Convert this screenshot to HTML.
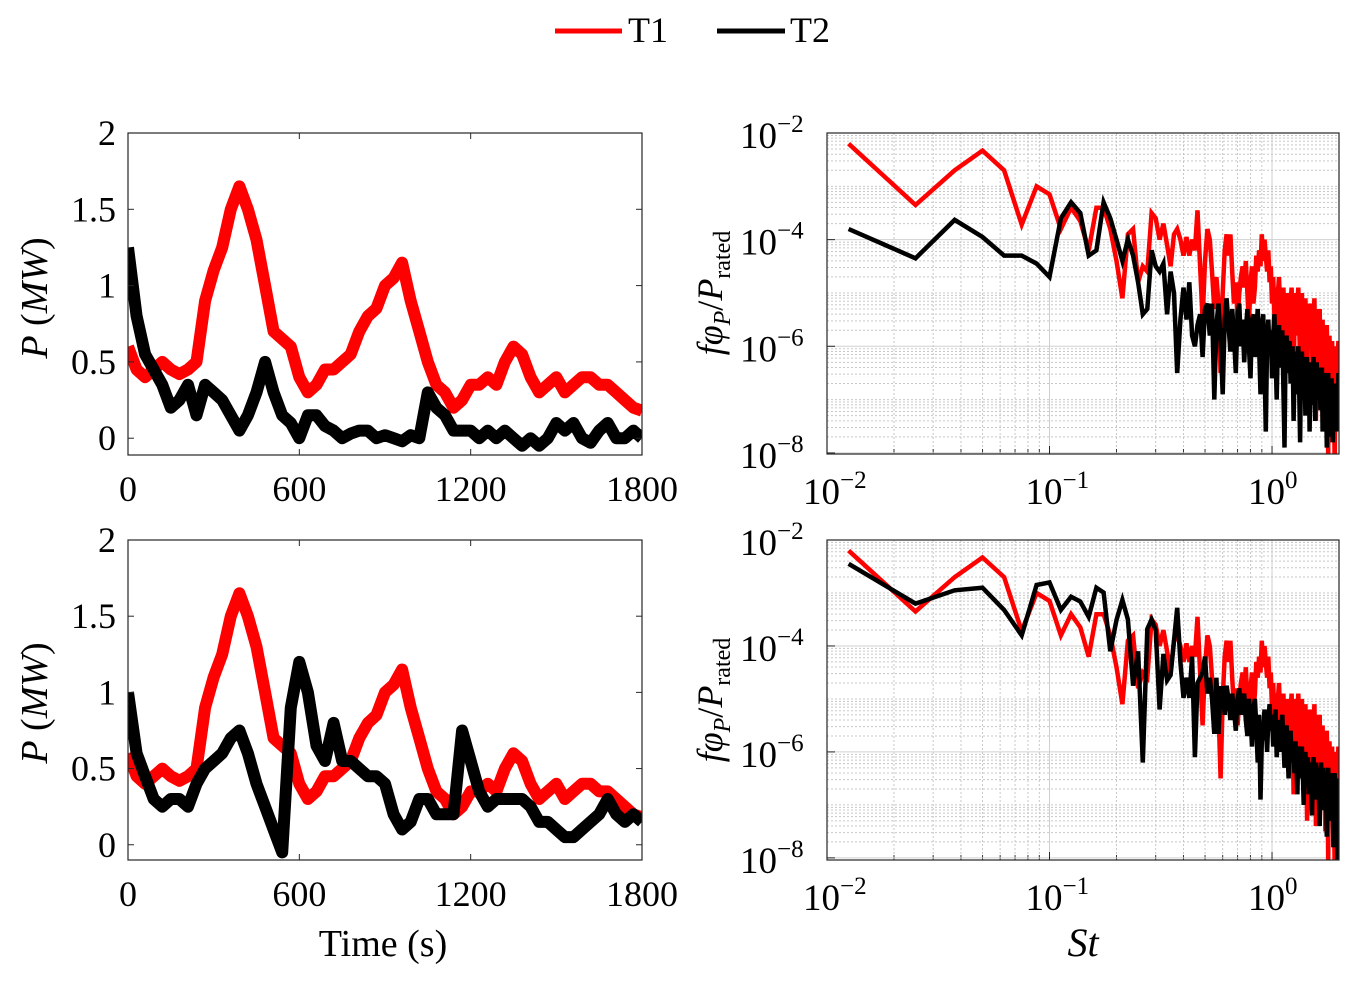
<!DOCTYPE html>
<html><head><meta charset="utf-8"><style>
body{margin:0;background:#fff;}
svg{display:block;font-family:"Liberation Serif",serif;}
</style></head><body>
<svg id="fig" width="1358" height="981" viewBox="0 0 1358 981">
<defs>
<clipPath id="c1"><rect x="128" y="133" width="514" height="322"/></clipPath>
<clipPath id="c2"><rect x="128" y="540" width="514" height="320"/></clipPath>
<clipPath id="c3"><rect x="827" y="133" width="512" height="321"/></clipPath>
<clipPath id="c4"><rect x="827" y="540" width="512" height="320"/></clipPath>
</defs>
<g>
<line x1="555" y1="31" x2="622" y2="31" stroke="#ff0000" stroke-width="5"/>
<text x="628" y="42" font-size="36">T1</text>
<line x1="717" y1="31" x2="785" y2="31" stroke="#000" stroke-width="5"/>
<text x="790" y="42" font-size="36">T2</text>
</g>
<g id="layer"></g>
<text x="0" y="0" font-size="38" transform="translate(47,298) rotate(-90)" text-anchor="middle"><tspan font-style="italic">P</tspan> (<tspan font-style="italic">MW</tspan>)</text>
<text x="0" y="0" font-size="38" transform="translate(47,703) rotate(-90)" text-anchor="middle"><tspan font-style="italic">P</tspan> (<tspan font-style="italic">MW</tspan>)</text>
<text x="383" y="956" font-size="38" text-anchor="middle">Time (s)</text>
<text x="1083" y="956" font-size="40" font-style="italic" text-anchor="middle">St</text>
<text transform="translate(722,293) rotate(-90)" font-size="36" text-anchor="middle"><tspan font-style="italic">fφ</tspan><tspan font-style="italic" font-size="24" dy="8">P</tspan><tspan dy="-8">/</tspan><tspan font-style="italic">P</tspan><tspan font-size="24" dy="8">rated</tspan></text>
<text transform="translate(722,700) rotate(-90)" font-size="36" text-anchor="middle"><tspan font-style="italic">fφ</tspan><tspan font-style="italic" font-size="24" dy="8">P</tspan><tspan dy="-8">/</tspan><tspan font-style="italic">P</tspan><tspan font-size="24" dy="8">rated</tspan></text>
</svg>
<script>
// ---- data ----
const timeStep = 30;
const timeTicks = [0, 600, 1200, 1800];
const powerTicks = [0, 0.5, 1, 1.5, 2];
const powerTickLabels = ["0", "0.5", "1", "1.5", "2"];
const t1Power = [0.6,0.45,0.4,0.45,0.5,0.45,0.42,0.45,0.5,0.9,1.1,1.25,1.5,1.65,1.5,1.3,1.0,0.7,0.65,0.6,0.4,0.3,0.35,0.45,0.45,0.5,0.55,0.7,0.8,0.85,1.0,1.05,1.15,0.9,0.7,0.5,0.35,0.3,0.2,0.25,0.35,0.35,0.4,0.35,0.5,0.6,0.55,0.4,0.3,0.35,0.4,0.3,0.35,0.4,0.4,0.35,0.35,0.3,0.25,0.2,0.18];
const t2PowerCase1 = [1.25,0.8,0.55,0.45,0.35,0.2,0.25,0.35,0.15,0.35,0.3,0.25,0.15,0.05,0.15,0.3,0.5,0.3,0.15,0.1,0.0,0.15,0.15,0.08,0.05,0.0,0.03,0.05,0.05,0.0,0.02,0.0,-0.02,0.02,0.0,0.3,0.2,0.15,0.05,0.05,0.05,0.0,0.05,0.0,0.05,0.0,-0.05,0.0,-0.05,0.0,0.1,0.05,0.1,0.0,-0.03,0.05,0.1,0.0,0.0,0.05,0.0];
const t2PowerCase2 = [1.0,0.6,0.45,0.3,0.25,0.3,0.3,0.25,0.4,0.5,0.55,0.6,0.7,0.75,0.6,0.4,0.25,0.1,-0.05,0.9,1.2,1.0,0.65,0.55,0.8,0.55,0.55,0.5,0.45,0.45,0.4,0.2,0.1,0.15,0.3,0.3,0.2,0.2,0.2,0.75,0.55,0.35,0.25,0.3,0.3,0.3,0.3,0.25,0.15,0.15,0.1,0.05,0.05,0.1,0.15,0.2,0.3,0.2,0.15,0.2,0.15];
const stStep = 0.0125;
const psdTicks = [-2, -4, -6, -8];
const stTicks = [-2, -1, 0];
const t1Psd = [-2.2,-3.35,-2.7,-2.33,-2.7,-3.72,-3.0,-3.15,-3.8,-3.4,-3.65,-4.2,-3.4,-3.4,-3.8,-4.4,-5.1,-3.9,-3.8,-4.8,-4.5,-4.6,-3.5,-3.6,-4.0,-3.7,-4.1,-4.5,-3.9,-3.8,-4.0,-4.3,-3.95,-4.3,-4.0,-4.2,-3.45,-4.5,-5.5,-4.4,-3.8,-4.0,-4.6,-5.3,-4.7,-5.2,-6.5,-5.0,-4.2,-3.9,-4.3,-3.9,-4.6,-5.2,-4.8,-5.5,-5.0,-4.7,-4.5,-4.9,-4.4,-5.0,-5.6,-4.8,-4.5,-5.2,-4.9,-4.3,-4.6,-4.2,-4.5,-3.9,-4.4,-4.0,-4.3,-4.6,-4.2,-4.8,-4.5,-5.2,-4.7,-5.4,-4.9,-5.6,-5.0,-4.7,-5.3,-5.8,-5.1,-4.9,-5.5,-6.2,-5.3,-5.0,-5.7,-6.4,-5.2,-4.9,-5.6,-6.8,-5.5,-5.0,-5.8,-5.2,-4.9,-5.6,-6.3,-5.4,-5.0,-5.9,-6.6,-5.3,-5.1,-5.9,-7.3,-5.6,-5.2,-6.0,-5.4,-5.2,-5.8,-6.8,-5.5,-5.1,-6.1,-7.4,-5.7,-5.3,-6.2,-5.6,-5.3,-6.5,-7.0,-5.8,-5.5,-6.3,-5.9,-6.8,-7.5,-6.0,-5.6,-6.4,-8.1,-6.2,-5.8,-6.9,-6.3,-7.2,-5.9,-6.6,-6.1,-7.0,-8.3,-6.4,-6.0,-6.8,-7.5,-6.2,-5.9,-6.1];
const t2PsdCase1 = [-3.8,-4.35,-3.63,-3.95,-4.3,-4.3,-4.45,-4.7,-3.6,-3.3,-3.5,-4.3,-4.2,-3.3,-3.6,-4.0,-4.4,-4.0,-4.3,-4.8,-5.4,-5.3,-4.2,-4.5,-4.6,-4.45,-5.4,-4.6,-5.0,-6.5,-5.5,-4.9,-5.5,-4.8,-5.8,-6.0,-5.6,-5.4,-6.2,-5.3,-5.2,-5.8,-5.2,-7.0,-5.6,-5.2,-5.9,-6.9,-5.5,-5.1,-5.6,-6.1,-5.3,-5.8,-6.5,-5.4,-5.2,-6.0,-5.5,-6.3,-5.7,-5.3,-6.0,-6.6,-5.5,-5.4,-6.2,-5.8,-5.3,-6.0,-6.9,-5.6,-5.4,-6.3,-7.6,-5.9,-5.5,-6.1,-5.7,-6.6,-5.8,-5.4,-6.2,-7.0,-5.9,-5.6,-6.4,-6.0,-5.7,-6.8,-7.9,-6.2,-5.8,-6.5,-6.1,-5.9,-6.7,-6.3,-6.0,-7.4,-6.5,-6.1,-6.9,-6.3,-6.0,-6.8,-7.8,-6.4,-6.1,-7.0,-6.6,-6.2,-7.3,-6.5,-6.2,-6.9,-6.4,-7.6,-6.6,-6.3,-7.1,-6.5,-6.2,-6.8,-7.4,-6.6,-6.3,-7.0,-6.5,-6.8,-6.4,-7.2,-6.7,-6.4,-7.6,-6.8,-6.5,-7.3,-6.7,-6.9,-7.9,-6.8,-6.5,-7.2,-6.6,-7.7,-6.9,-6.6,-7.1,-7.8,-6.9,-6.7,-7.4,-6.8,-7.0,-7.6,-6.7,-7.3,-6.5,-6.6];
const t2PsdCase2 = [-2.45,-3.2,-2.95,-2.9,-3.32,-3.8,-2.85,-2.8,-3.32,-3.07,-3.16,-3.45,-2.9,-2.99,-4.1,-3.51,-3.13,-3.5,-4.75,-4.1,-6.2,-3.68,-3.5,-3.7,-5.2,-4.15,-4.65,-4.55,-3.9,-3.28,-4.3,-4.98,-4.6,-4.98,-4.2,-6.1,-4.7,-4.6,-4.5,-4.2,-4.9,-4.6,-5.0,-5.66,-4.6,-5.66,-4.8,-4.8,-5.3,-4.75,-5.0,-5.4,-4.9,-5.2,-5.6,-5.0,-4.8,-5.3,-5.1,-4.9,-5.4,-5.7,-5.0,-5.3,-5.9,-5.2,-5.0,-5.5,-6.2,-5.3,-6.9,-5.8,-5.6,-5.2,-5.5,-6.0,-5.4,-5.1,-5.6,-5.3,-5.9,-5.5,-5.2,-6.1,-5.7,-5.4,-6.0,-5.6,-5.3,-5.8,-6.3,-5.7,-5.5,-6.0,-6.5,-5.8,-5.6,-6.2,-5.9,-6.1,-6.4,-5.8,-6.2,-6.8,-5.9,-6.0,-6.5,-6.1,-5.9,-6.4,-7.0,-6.2,-6.0,-6.6,-6.3,-6.1,-6.8,-6.4,-6.2,-6.7,-7.2,-6.3,-6.1,-6.7,-6.4,-6.2,-6.9,-6.5,-6.3,-6.8,-7.4,-6.4,-6.2,-6.8,-6.5,-6.3,-7.1,-6.6,-6.4,-6.9,-7.6,-6.5,-6.3,-7.0,-6.6,-6.4,-7.3,-6.8,-6.5,-7.1,-7.8,-6.6,-6.4,-7.2,-6.8,-6.5,-7.5,-8.5,-6.8,-8.6];

const NS = "http://www.w3.org/2000/svg";
const layer = document.getElementById('layer');
function mk(tag, attrs, parent){ const e=document.createElementNS(NS,tag); for(const k in attrs) e.setAttribute(k,attrs[k]); (parent||layer).appendChild(e); return e; }

const panels = [
 {name:'top-left', x0:128,x1:642,y0:133,y1:455,ymin:-0.11,ymax:2,clip:'c1',series:[t1Power,t2PowerCase1]},
 {name:'bottom-left', x0:128,x1:642,y0:540,y1:860,ymin:-0.1,ymax:2,clip:'c2',series:[t1Power,t2PowerCase2]},
 {name:'top-right', x0:827,x1:1339,y0:133,y1:454,ymin:-8.02,ymax:-2,clip:'c3',series:[t1Psd,t2PsdCase1]},
 {name:'bottom-right', x0:827,x1:1339,y0:540,y1:860,ymin:-8.04,ymax:-2,clip:'c4',series:[t1Psd,t2PsdCase2]}
];
const colors=['#ff0000','#000000'];

panels.forEach((p,pi)=>{
  const g=mk('g',{});
  
  
  const isLog = pi>=2;
  const sx = isLog ? (v)=> p.x0+(v+2)/2.301*(p.x1-p.x0) : (v)=> p.x0+v/1800*(p.x1-p.x0);
  const sy = (v)=> p.y1-(v-p.ymin)/(p.ymax-p.ymin)*(p.y1-p.y0);
  if(isLog){
    for(let d=-2; d<=0; d++){
      for(let m=1;m<=9;m++){
        const lv=d+Math.log10(m); if(lv>0.301) break;
        const x=sx(lv);
        const l=mk('line',{x1:x,x2:x,y1:p.y0,y2:p.y1,stroke:m===1?'#d0d0d0':'#c8c8c8','stroke-width':1,'stroke-dasharray':m===1?'':'2,2'},g);
        
        
        if(m>1){ const t1=mk('line',{x1:x,x2:x,y1:p.y1,y2:p.y1-5,stroke:'#333','stroke-width':1},g);
           }
      }
    }
    for(let d=-9; d<=-3; d++){
      for(let m=1;m<=9;m++){
        const lv=d+Math.log10(m); if(lv<p.ymin||lv>p.ymax) continue;
        const y=sy(lv);
        const major = (m===1 && d%2===0);
        const l=mk('line',{x1:p.x0,x2:p.x1,y1:y,y2:y,stroke:major?'#d0d0d0':'#c8c8c8','stroke-width':1,'stroke-dasharray':major?'':'2,2'},g);
        
        
      }
    }
  }
  const sg=mk('g',{'clip-path':'url(#'+p.clip+')'},g);
  p.series.forEach((arr,si)=>{
    let d='';
    arr.forEach((v,i)=>{
      const x = isLog ? sx(Math.log10((i+1)*stStep)) : sx(i*timeStep);
      d += (i?'L':'M')+x.toFixed(1)+','+sy(v).toFixed(1);
    });
    const path=mk('path',{d:d,fill:'none',stroke:colors[si],'stroke-width':isLog?4.5:12,'stroke-linejoin':isLog?'miter':'round'},sg);
    
    
  });
  const box=mk('rect',{x:p.x0,y:p.y0,width:p.x1-p.x0,height:p.y1-p.y0,fill:'none',stroke:'#262626','stroke-width':1.2},g);
  
  
  if(!isLog){
    timeTicks.forEach(t=>{
      const x=sx(t);
      mk('line',{x1:x,x2:x,y1:p.y1,y2:p.y1-6,stroke:'#262626'},g);
      mk('line',{x1:x,x2:x,y1:p.y0,y2:p.y0+6,stroke:'#262626'},g);
      const tx=mk('text',{x:x,y:p.y1+46,'font-size':36,'text-anchor':'middle'},g);
      
      
      tx.textContent=String(t);
    });
    powerTicks.forEach((v,i)=>{
      const y=sy(v);
      mk('line',{x1:p.x0,x2:p.x0+6,y1:y,y2:y,stroke:'#262626'},g);
      mk('line',{x1:p.x1,x2:p.x1-6,y1:y,y2:y,stroke:'#262626'},g);
      const tx=mk('text',{x:116,y:y+12,'font-size':36,'text-anchor':'end'},g);
      
      
      tx.textContent=powerTickLabels[i];
    });
  } else {
    stTicks.forEach(t=>{
      const x=sx(t);
      mk('line',{x1:x,x2:x,y1:p.y1,y2:p.y1-8,stroke:'#262626'},g);
      const tx=mk('text',{x:x-24,y:p.y1+50,'font-size':37},g);
      
      
      const b=document.createElementNS(NS,'tspan'); b.textContent='10'; tx.appendChild(b);
      const s=document.createElementNS(NS,'tspan'); s.setAttribute('dy','-16'); s.setAttribute('font-size','25'); s.textContent=(t<0?'−':'')+Math.abs(t); tx.appendChild(s);
    });
    psdTicks.forEach(v=>{
      const y=sy(v);
      mk('line',{x1:p.x0,x2:p.x0+8,y1:y,y2:y,stroke:'#262626'},g);
      const tx=mk('text',{x:740,y:y+15,'font-size':37},g);
      
      
      const b=document.createElementNS(NS,'tspan'); b.textContent='10'; tx.appendChild(b);
      const s=document.createElementNS(NS,'tspan'); s.setAttribute('dy','-16'); s.setAttribute('font-size','25'); s.textContent='−'+Math.abs(v); tx.appendChild(s);
    });
  }
});
</script>
</body></html>
